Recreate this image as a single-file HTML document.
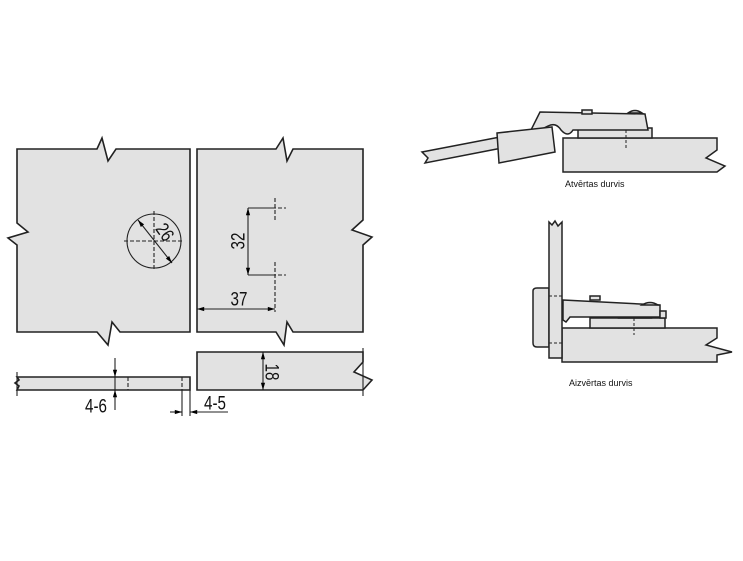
<!DOCTYPE html>
<html><head><meta charset="utf-8"><style>
html,body{margin:0;padding:0;background:#fff;width:743px;height:561px;overflow:hidden}
svg{display:block}
text{font-family:"Liberation Sans",sans-serif}
</style></head><body>
<svg width="743" height="561" viewBox="0 0 743 561" xmlns="http://www.w3.org/2000/svg">
<defs>
<marker id="a" viewBox="0 0 12 10" refX="12" refY="5" markerWidth="9" markerHeight="6" orient="auto-start-reverse" markerUnits="userSpaceOnUse"><path d="M0,1.5 L12,5 L0,8.5 z" fill="#000"/></marker>
</defs>
<g fill="#e2e2e2" stroke="#222" stroke-width="1.6">
<path d="M17,149 L97,149 L102,138 L108,161 L116,149 L190,149 L190,332 L120,332 L112,322 L108,345 L97,332 L17,332 L17,245 L8,238 L28,232 L17,223 Z"/>
<path d="M197,149 L276,149 L283,138 L287,161 L293,149 L363,149 L363,220 L352,230 L372,237 L363,245 L363,332 L293,332 L287,322 L284,345 L276,332 L197,332 Z"/>
<path d="M17,377 L190,377 L190,390 L17,390 L19,386 L15,383 L19,380 Z"/>
<path d="M197,352 L363,352 L363,362 L354,372 L372,380 L363,390 L197,390 Z"/>
</g>
<g stroke="#222" stroke-width="1.1" fill="none">
<circle cx="154" cy="241" r="27"/>
<path d="M124,241 H184 M154,211 V271 M275,198 V222 M272,208 H286 M275,262 V286 M272,275 H286 M275,286 V312 M128,377 V390 M182,377 V390" stroke-dasharray="4,2"/>
<path d="M248,208 H272 M248,275 H272"/>
<path d="M138,220 L172,263" marker-start="url(#a)" marker-end="url(#a)"/>
<path d="M248,208 V275" marker-start="url(#a)" marker-end="url(#a)"/>
<path d="M197,309 H275" marker-start="url(#a)" marker-end="url(#a)"/>
<path d="M263,352 V390" marker-start="url(#a)" marker-end="url(#a)"/>
<path d="M115,358 V377" marker-end="url(#a)"/>
<path d="M115,410 V390" marker-end="url(#a)"/>
<path d="M115,377 V390"/>
<path d="M182,390 V416 M190,390 V416"/>
<path d="M170,412 H182" marker-end="url(#a)"/>
<path d="M228,412 H190" marker-end="url(#a)"/>
<path d="M17,372 V396 M363,348 V396"/>
</g>
<g font-size="19" fill="#111" text-anchor="middle" dominant-baseline="central">
<text transform="translate(96,406) scale(0.8,1)">4-6</text>
<text transform="translate(215,403) scale(0.8,1)">4-5</text>
<text transform="translate(239,299) scale(0.8,1)">37</text>
<text transform="translate(238,241) rotate(-90) scale(0.8,1)">32</text>
<text transform="translate(165,232) rotate(55) scale(0.8,1)">26</text>
<text transform="translate(272,372) rotate(90) scale(0.8,1)">18</text>
</g>
<g fill="#e2e2e2" stroke="#222" stroke-width="1.5">
<path d="M563,138 L717,138 L717,150 L706,158 L725,166 L717,172 L563,172 Z"/>
<path d="M422,152 L500,137 L502,148 L425,163 L428,158 Z"/>
<path d="M578,128 L652,128 L652,138 L578,138 Z"/>
<path d="M600,128 Q613,112 626,128 Z"/>
<path d="M530,132 L540,112 L645,114 L648,130 L573,130 Q568,138 561,130 Q556,122 548,126 L536,132 Z"/>
<path d="M497,133 L552,127 L555,152 L499,163 Z"/>
<path d="M582,110 h10 v4 h-10 z"/>
<path d="M628,113 Q635,108 642,113 Z"/>
</g>
<path d="M626,130 V150" stroke="#222" stroke-dasharray="3,2" fill="none"/>
<text x="565" y="187" font-size="9" fill="#111">Atvērtas durvis</text>
<g fill="#e2e2e2" stroke="#222" stroke-width="1.5">
<path d="M562,328 L717,328 L717,338 L706,345 L732,352 L717,355 L717,362 L562,362 Z"/>
<path d="M590,318 L665,318 L665,328 L590,328 Z"/>
<path d="M620,318 Q635,308 650,318 Z"/>
<path d="M563,300 L660,305 L660,317 L570,317 L566,322 L563,320 Z"/>
<path d="M660,311 h6 v7 h-6 z"/>
<path d="M533,291 Q533,288 537,288 L549,288 L549,347 L537,347 Q533,347 533,343 Z"/>
<path d="M549,222 L552,225 L555,221 L558,226 L562,222 L562,358 L549,358 Z"/>
<path d="M590,296 h10 v4 h-10 z"/>
<path d="M642,305 Q650,300 658,305 Z"/>
</g>
<path d="M549,296 H562 M549,343 H562 M634,318 V335" stroke="#222" stroke-dasharray="3,2" fill="none"/>
<text x="569" y="386" font-size="9" fill="#111">Aizvērtas durvis</text>
</svg>
</body></html>
